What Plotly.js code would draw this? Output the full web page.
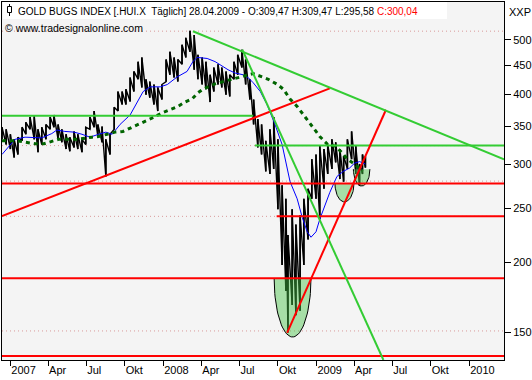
<!DOCTYPE html>
<html><head><meta charset="utf-8">
<script src="https://cdn.plot.ly/plotly-3.0.1.min.js"></script>
<style>html,body{margin:0;padding:0;background:#fff;}#chart{width:532px;height:380px;}</style>
</head><body><div id="chart"></div>
<script>
// ---- price data (period high / low) ----
const barDates = ['2006-12-12','2006-12-22','2007-01-01','2007-01-10','2007-01-19','2007-01-29','2007-02-07','2007-02-17','2007-02-27','2007-03-08','2007-03-17','2007-03-27','2007-04-06','2007-04-15','2007-04-25','2007-05-04','2007-05-14','2007-05-23','2007-06-02','2007-06-11','2007-06-21','2007-06-30','2007-07-10','2007-07-20','2007-07-29','2007-08-08','2007-08-17','2007-08-27','2007-09-06','2007-09-15','2007-09-25','2007-10-04','2007-10-14','2007-10-23','2007-11-02','2007-11-11','2007-11-21','2007-11-30','2007-12-10','2007-12-19','2007-12-29','2008-01-08','2008-01-17','2008-01-27','2008-02-05','2008-02-15','2008-02-24','2008-03-05','2008-03-15','2008-03-24','2008-04-03','2008-04-12','2008-04-22','2008-05-01','2008-05-11','2008-05-20','2008-05-30','2008-06-08','2008-06-18','2008-06-27','2008-07-07','2008-07-16','2008-07-26','2008-08-04','2008-08-14','2008-08-23','2008-09-02','2008-09-12','2008-09-21','2008-10-01','2008-10-11','2008-10-20','2008-10-25','2008-11-04','2008-11-13','2008-11-23','2008-12-02','2008-12-12','2008-12-21','2008-12-31','2009-01-09','2009-01-19','2009-01-28','2009-02-07','2009-02-16','2009-02-26','2009-03-07','2009-03-16','2009-03-26','2009-04-05','2009-04-14','2009-04-21','2009-04-28'];
const barHigh = [349,346,339,332,335,349,356,364,365,346,349,353,364,367,353,346,339,335,343,339,332,349,364,373,353,350,332,339,379,404,404,408,428,439,457,465,425,421,416,411,416,461,476,465,461,490,504,519,510,470,465,457,433,446,452,446,439,433,457,470,480,461,425,391,361,353,330,346,364,332,275,260,224,249,234,243,260,271,306,312,323,319,325,332,328,319,310,332,343,323,300,312,309.47];
const barLow = [332,325,319,308,312,330,339,346,332,315,325,332,346,349,332,328,319,316,321,319,315,325,346,349,336,328,285,312,346,373,383,383,388,404,425,411,399,394,383,373,391,421,433,428,421,452,465,476,442,425,416,408,387,404,416,411,399,396,425,433,446,416,391,353,321,312,291,288,294,249,198,178,150,168,161,164,198,220,260,260,239,271,288,294,302,282,279,294,306,288,274,288,295.58];

// ---- moving averages ----
const maFastDates = ['2006-12-12','2007-01-12','2007-02-05','2007-03-01','2007-03-17','2007-04-10','2007-04-22','2007-05-11','2007-06-02','2007-06-21','2007-07-10','2007-07-31','2007-08-17','2007-09-01','2007-09-20','2007-10-14','2007-10-31','2007-11-14','2007-12-01','2007-12-25','2008-01-11','2008-02-03','2008-02-27','2008-03-12','2008-03-22','2008-04-15','2008-05-04','2008-05-21','2008-06-04','2008-06-21','2008-07-10','2008-07-22','2008-08-03','2008-08-20','2008-09-05','2008-09-24','2008-10-11','2008-10-30','2008-11-16','2008-11-28','2008-12-10','2008-12-19','2008-12-31','2009-01-09','2009-01-21','2009-02-02','2009-02-19','2009-03-06','2009-03-21','2009-04-02','2009-04-14','2009-04-21','2009-04-28'];
const maFastValues = [312,332,335,335,334,340,345,343,342,339,335,339,342,339,353,367,388,404,412,412,416,429,439,457,465,463,457,449,442,436,433,428,419,404,383,353,325,279,260,241,227,222,227,239,252,267,285,291,295,301,303,301,300];
const maSlowDates = ['2006-12-12','2007-01-17','2007-03-01','2007-03-22','2007-04-26','2007-06-09','2007-07-15','2007-07-31','2007-08-20','2007-09-08','2007-09-27','2007-10-19','2007-11-07','2007-12-01','2008-01-01','2008-01-22','2008-02-05','2008-02-22','2008-03-10','2008-03-24','2008-04-05','2008-04-17','2008-05-04','2008-05-23','2008-06-14','2008-06-28','2008-07-15','2008-08-03','2008-08-25','2008-09-08','2008-09-30','2008-10-14','2008-10-30','2008-11-16','2008-12-05','2008-12-22','2009-01-09','2009-01-28','2009-02-14','2009-03-02','2009-03-16','2009-04-02','2009-04-21'];
const maSlowValues = [330,330,326,326,332,332,335,336,339,342,343,349,354,361,371,376,380,387,392,402,408,412,417,421,425,428,431,435,429,425,416,408,392,380,364,350,336,325,323,315,306,300,291];

// ---- trend lines & levels ----
const redRiseLongDates = ['2006-12-12','2009-02-02'];
const redRiseLongPrices = [242.3, 409.5];
const redRiseSteepDates = ['2008-10-23','2009-06-16'];
const redRiseSteepPrices = [149.8, 375];
const greenFallLongDates = ['2008-03-12','2010-03-25'];
const greenFallLongPrices = [517.8, 305.7];
const greenFallSteepDates = ['2008-07-08','2009-06-10'];
const greenFallSteepPrices = [480.1, 134];
const redLevelPrices = [276.8, 242, 187.5, 136.2];
const redLevelStart = ['2006-12-12','2008-09-28','2006-12-12','2006-12-12'];
const greenLevelPrices = [366, 323.6];
const greenLevelStart = ['2006-12-12','2008-08-07'];
const greenLevelEnd = ['2008-08-03','2010-03-25'];
const dottedLevelPrices = [518, 323.6, 279.6, 241.9, 151];

// ---- highlighted zones (half ellipses) ----
const zoneCenters = ['2008-11-05','2009-03-09','2009-04-19'];
const zoneHalfDays = [44, 22.7, 19.7];
const zoneTop = [187.5, 277, 293.7];
const zoneBottom = [147.3, 256.7, 274];

// ---- axes ----
const xStart = '2006-12-12', xEnd = '2010-03-25';
const xTickVals = ['2007-01-01','2007-04-01','2007-07-01','2007-10-01','2008-01-01','2008-04-01','2008-07-01','2008-10-01','2009-01-01','2009-04-01','2009-07-01','2009-10-01','2010-01-01'];
const xTickText = ['2007','Apr','Jul','Okt','2008','Apr','Jul','Okt','2009','Apr','Jul','Okt','2010'];
const yTickVals = [150,200,250,300,350,400,450,500];
const yMin = 134, yMax = 584;

const traces = [];
const lineTrace = (x, y, color, width, dash) => ({type:'scatter', mode:'lines', x, y, hoverinfo:'skip',
  connectgaps: false, line:{color, width, dash: dash || 'solid'}});

dottedLevelPrices.forEach(p => traces.push(lineTrace([xStart, xEnd], [p, p], '#d99a9a', 1, '1px,3px')));

// price: high-low strokes joined as a continuous sawtooth (dense daily-bar look)
const px = [], py = [];
barDates.forEach((d, i) => {
  px.push(d, d);
  py.push(barLow[i], barHigh[i]);
});
traces.push(lineTrace(px, py, '#000000', 1.4));
// plus the period strokes themselves, a bit heavier
const bx = [], by = [];
barDates.forEach((d, i) => { bx.push(d, d, null); by.push(barLow[i], barHigh[i], null); });
traces.push(lineTrace(bx, by, '#000000', 1.6));

traces.push(lineTrace(maFastDates, maFastValues, '#0000ff', 1));
traces.push(lineTrace(maSlowDates, maSlowValues, '#006400', 3, '4px,4px'));

// half ellipses
const DAY = 86400000;
zoneCenters.forEach((c, i) => {
  const c0 = new Date(c + 'T00:00:00Z').getTime();
  const lt = Math.log10(zoneTop[i]), lb = Math.log10(zoneBottom[i]);
  const ex = [], ey = [];
  for (let k = 0; k <= 48; k++) {
    const t = Math.PI * k / 48;
    ex.push(new Date(c0 + zoneHalfDays[i] * DAY * Math.cos(t)).toISOString().slice(0, 19).replace('T', ' '));
    ey.push(Math.pow(10, lt - (lt - lb) * Math.sin(t)));
  }
  traces.push({type:'scatter', mode:'lines', x:ex, y:ey, fill:'toself', fillcolor:'rgba(70,195,70,0.45)',
    line:{color:'#000', width:1}, hoverinfo:'skip'});
});

redLevelPrices.forEach((p, i) => traces.push(lineTrace([redLevelStart[i], xEnd], [p, p], '#ff0000', 2)));
greenLevelPrices.forEach((p, i) => traces.push(lineTrace([greenLevelStart[i], greenLevelEnd[i]], [p, p], '#33cc33', 2)));
traces.push(lineTrace(redRiseLongDates, redRiseLongPrices, '#ff0000', 2));
traces.push(lineTrace(redRiseSteepDates, redRiseSteepPrices, '#ff0000', 2));
traces.push(lineTrace(greenFallLongDates, greenFallLongPrices, '#33cc33', 2));
traces.push(lineTrace(greenFallSteepDates, greenFallSteepPrices, '#33cc33', 2));

const FONT = '"Liberation Sans", Arial, sans-serif';
const layout = {
  width: 532, height: 380,
  margin: {l: 2, r: 28, t: 2, b: 20, pad: 0},
  paper_bgcolor: '#ffffff', plot_bgcolor: '#f4f4f4',
  showlegend: false,
  font: {family: FONT, size: 11, color: '#000'},
  xaxis: {type: 'date', range: [xStart, xEnd], showgrid: false, zeroline: false,
    showline: true, mirror: true, linecolor: '#000', linewidth: 1,
    tickmode: 'array', tickvals: xTickVals, ticktext: xTickText,
    ticks: 'outside', ticklen: 5, tickcolor: '#000', tickwidth: 1,
    ticklabelposition: 'outside right', tickfont: {family: FONT, size: 11, color: '#000'}},
  yaxis: {type: 'log', side: 'right', range: [Math.log10(yMin), Math.log10(yMax)],
    showgrid: false, zeroline: false, showline: true, mirror: true, linecolor: '#000', linewidth: 1,
    tickmode: 'array', tickvals: yTickVals, ticktext: yTickVals.map(String),
    ticks: 'outside', ticklen: 6, tickcolor: '#000', tickfont: {family: FONT, size: 11, color: '#000'}},
  shapes: [
    {type: 'rect', xref: 'paper', yref: 'paper', xsizemode: 'pixel', ysizemode: 'pixel', xanchor: 0, yanchor: 1,
      x0: 1, x1: 445, y0: 0, y1: -17, fillcolor: '#ffffff', line: {width: 0}, layer: 'above'},
    {type: 'line', xref: 'paper', yref: 'paper', xsizemode: 'pixel', ysizemode: 'pixel', xanchor: 0, yanchor: 1,
      x0: 7.5, x1: 7.5, y0: -2, y1: -14, line: {color: '#000', width: 1}, layer: 'above'},
    {type: 'rect', xref: 'paper', yref: 'paper', xsizemode: 'pixel', ysizemode: 'pixel', xanchor: 0, yanchor: 1,
      x0: 5.5, x1: 9.5, y0: -4.5, y1: -10.5, fillcolor: '#ffffff', line: {color: '#000', width: 1}, layer: 'above'}
  ],
  annotations: [
    {xref: 'paper', yref: 'paper', x: 0, y: 1, xanchor: 'left', yanchor: 'top', xshift: 14, yshift: -2,
      showarrow: false, font: {family: FONT, size: 10, color: '#000'},
      text: 'GOLD BUGS INDEX [.HUI.X  Täglich] 28.04.2009 - O:309,47 H:309,47 L:295,58 <span style="color:#ff0000">C:300,04</span>'},
    {xref: 'paper', yref: 'paper', x: 0, y: 1, xanchor: 'left', yanchor: 'top', xshift: 1, yshift: -18,
      showarrow: false, font: {family: FONT, size: 10.5, color: '#000'}, text: '© www.tradesignalonline.com'},
    {xref: 'paper', yref: 'paper', x: 1, y: 1, xanchor: 'left', yanchor: 'top', xshift: 3, yshift: -2,
      showarrow: false, font: {family: FONT, size: 11, color: '#000'}, text: 'XXP'}
  ]
};
Plotly.newPlot('chart', traces, layout, {staticPlot: true, displayModeBar: false});
</script></body></html>
